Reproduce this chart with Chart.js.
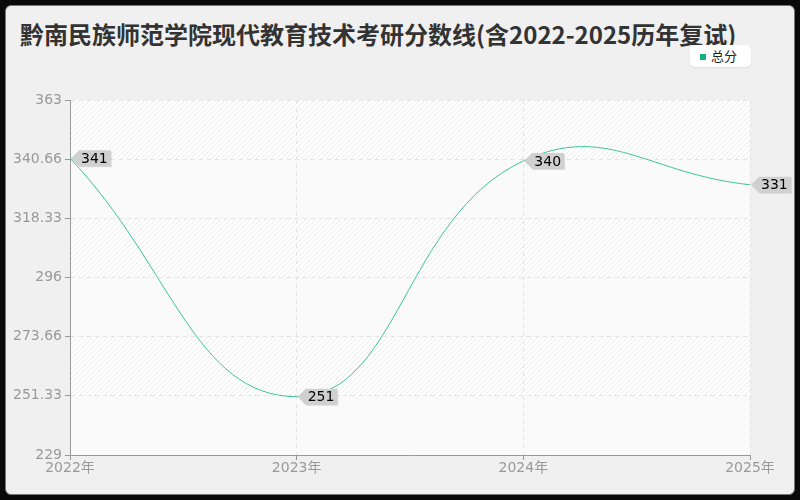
<!DOCTYPE html>
<html>
<head>
<meta charset="utf-8">
<script src="https://cdn.jsdelivr.net/npm/chart.js@4.4.0/dist/chart.umd.min.js"></script>
<style>
  html, body { margin: 0; padding: 0; background: #0a0a0a; }
  #panel {
    position: absolute; left: 5px; top: 5px; width: 788px; height: 488px;
    background: #f0f0f0; border: 1px solid #777; border-radius: 6px;
  }
  #title {
    position: absolute; left: 20px; top: 16px; margin: 0; line-height: 36px;
    font: bold 24px "Noto Sans CJK SC", "Noto Sans", sans-serif; color: #333;
    white-space: nowrap;
  }
  #legend {
    position: absolute; left: 690px; top: 45px; width: 61px; height: 22px;
    background: #fff; border-radius: 5px; box-shadow: 0 1px 2px rgba(0,0,0,0.08);
    font: 13px "Noto Sans CJK SC", sans-serif; color: #222; line-height: 22px;
  }
  #legend span.sw { display: inline-block; width: 6px; height: 6px; background: #1aaf7c; margin: 0 5px 0 10px; vertical-align: 1px; }
  #wrap { position: absolute; left: 0; top: 0; width: 800px; height: 500px; }
</style>
</head>
<body>
<div id="panel"></div>
<h1 id="title">黔南民族师范学院现代教育技术考研分数线(含2022-2025历年复试)</h1>
<div id="legend"><span class="sw"></span>总分</div>
<div id="wrap"><canvas id="chart" width="800" height="500"></canvas></div>
<script>
var years = ['2022年', '2023年', '2024年', '2025年'];
var totalScores = [341, 251, 340, 331];
var yTicks = [229, 251.33, 273.66, 296, 318.33, 340.66, 363];

// alternating hatched bands behind the plot
var bandPlugin = {
    id: 'bands',
    beforeDraw: function(chart) {
        var ctx = chart.ctx, area = chart.chartArea, ys = chart.scales.y;
        var pc = document.createElement('canvas');
        pc.width = 5; pc.height = 5;
        var p = pc.getContext('2d');
        p.fillStyle = '#ffffff'; p.fillRect(0, 0, 5, 5);
        p.strokeStyle = '#ebebeb'; p.lineWidth = 1;
        p.beginPath(); p.moveTo(0, 5); p.lineTo(5, 0); p.stroke();
        p.beginPath(); p.moveTo(-1, 1); p.lineTo(1, -1); p.stroke();
        p.beginPath(); p.moveTo(4, 6); p.lineTo(6, 4); p.stroke();
        var hatch = ctx.createPattern(pc, 'repeat');
        ctx.save();
        for (var i = 0; i < yTicks.length - 1; i++) {
            var top = ys.getPixelForValue(yTicks[i + 1]);
            var bot = ys.getPixelForValue(yTicks[i]);
            ctx.fillStyle = (i % 2 === 0) ? '#fafafa' : hatch;
            ctx.fillRect(area.left, top, area.right - area.left, bot - top);
        }
        ctx.restore();
    }
};

// value tags with arrow pointing at each point
var tagPlugin = {
    id: 'tags',
    afterDatasetsDraw: function(chart) {
        var ctx = chart.ctx;
        var meta = chart.getDatasetMeta(0);
        ctx.save();
        ctx.font = '14px "DejaVu Sans", sans-serif';
        ctx.textBaseline = 'middle';
        meta.data.forEach(function(pt, i) {
            var txt = String(totalScores[i]);
            var w = ctx.measureText(txt).width + 5;
            var x = pt.x + 1, y = pt.y, h = 16;
            ctx.fillStyle = 'rgba(0,0,0,0.12)';
            ctx.beginPath();
            ctx.moveTo(x + 1, y + 1); ctx.lineTo(x + 9, y - h / 2 + 1); ctx.lineTo(x + 9 + w, y - h / 2 + 1);
            ctx.lineTo(x + 9 + w, y + h / 2 + 1); ctx.lineTo(x + 9, y + h / 2 + 1); ctx.closePath(); ctx.fill();
            ctx.fillStyle = '#d0d0d0';
            ctx.beginPath();
            ctx.moveTo(x, y); ctx.lineTo(x + 8, y - h / 2); ctx.lineTo(x + 8 + w, y - h / 2);
            ctx.lineTo(x + 8 + w, y + h / 2); ctx.lineTo(x + 8, y + h / 2); ctx.closePath(); ctx.fill();
            ctx.fillStyle = '#000';
            ctx.fillText(txt, x + 10, y + 1);
        });
        ctx.restore();
    }
};

var tickFont = { size: 14, family: '"DejaVu Sans", "Noto Sans CJK SC", sans-serif' };

var ctx = document.getElementById('chart').getContext('2d');
var myChart = new Chart(ctx, {
    type: 'line',
    data: {
        labels: years,
        datasets: [{
            label: '总分',
            data: totalScores,
            borderColor: '#3cc49a',
            borderWidth: 1,
            pointRadius: 0,
            tension: 0.45,
            fill: false
        }]
    },
    options: {
        responsive: false,
        animation: false,
        layout: { padding: { top: 100, right: 50, bottom: 0, left: 0 } },
        plugins: { legend: { display: false }, tooltip: { enabled: false } },
        scales: {
            x: {
                offset: false,
                afterFit: function(s) { s.height = 45; },
                grid: { color: '#e4e4e4', tickLength: 5, tickColor: '#999' },
                border: { color: '#999', dash: [4, 4] },
                ticks: { color: '#999', font: tickFont, padding: 0, maxRotation: 0 }
            },
            y: {
                min: 229, max: 363,
                afterFit: function(s) { s.width = 70; },
                afterBuildTicks: function(s) { s.ticks = yTicks.map(function(v) { return { value: v }; }); },
                grid: { color: '#e4e4e4', tickLength: 5, tickColor: '#999' },
                border: { color: '#999', dash: [4, 4] },
                ticks: {
                    color: '#999', padding: 3, font: tickFont,
                    callback: function(v) { return String(v); }
                }
            }
        }
    },
    plugins: [bandPlugin, tagPlugin]
});
</script>
</body>
</html>
